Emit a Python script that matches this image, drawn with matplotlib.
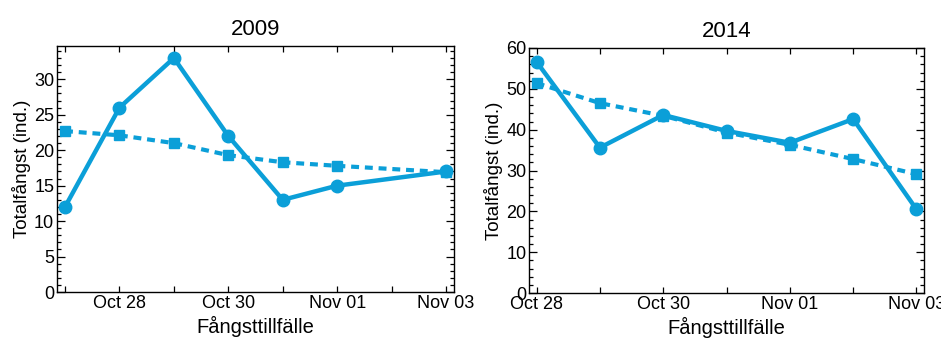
import numpy as np
import pandas as pd
import matplotlib
matplotlib.use("Agg")
import matplotlib.pyplot as plt
from matplotlib.ticker import MultipleLocator

plt.rcParams['font.family'] = ['Liberation Sans Narrow', 'Liberation Sans', 'DejaVu Sans']

# data
dates_2009 = pd.to_datetime(["2009-10-27", "2009-10-28", "2009-10-29", "2009-10-30",
                             "2009-10-31", "2009-11-01", "2009-11-03"])
catch_2009 = [12, 26, 33, 22, 13, 15, 17]
trend_2009 = [22.7, 22.1, 21.0, 19.3, 18.3, 17.8, 16.9]

dates_2014 = pd.to_datetime(["2014-10-28", "2014-10-29", "2014-10-30", "2014-10-31",
                             "2014-11-01", "2014-11-02", "2014-11-03"])
catch_2014 = [56.6, 35.6, 43.6, 39.7, 36.8, 42.6, 20.5]
trend_2014 = [51.4, 46.5, 43.4, 39.3, 36.3, 32.8, 29.1]

tick_labels_2009 = ["", "Oct 28", "", "Oct 30", "", "Nov 01", "", "Nov 03"]
tick_labels_2014 = ["Oct 28", "", "Oct 30", "", "Nov 01", "", "Nov 03"]

col = "#0b9fd8"

fig = plt.figure(figsize=(9.41, 3.38), dpi=100)
ax1 = fig.add_axes([0.0606, 0.136, 0.4219, 0.728])
ax2 = fig.add_axes([0.5622, 0.133, 0.4198, 0.725])

panels = [
    (ax1, "2009", dates_2009, catch_2009, trend_2009, tick_labels_2009,
     pd.date_range("2009-10-27", "2009-11-03"), 34.7, 5, 1, 0.147),
    (ax2, "2014", dates_2014, catch_2014, trend_2014, tick_labels_2014,
     pd.date_range("2014-10-28", "2014-11-03"), 60, 10, 2, 0.12),
]

for ax, title, d, c, t, labs, days, ymax, ymaj, ymin, pad in panels:
    ax.plot(d, t, color=col, lw=3, ls=(0, (1.9, 1.4)), marker="s", ms=6.5,
            dash_capstyle="butt", zorder=2)
    ax.plot(d, c, color=col, lw=3.2, marker="o", ms=9, zorder=3)
    ax.set_xticks(days)
    ax.set_xticklabels(labs)
    ax.set_xlim(days[0] - pd.Timedelta(days=pad), days[-1] + pd.Timedelta(days=pad))
    ax.set_ylim(0, ymax)
    ax.yaxis.set_major_locator(MultipleLocator(ymaj))
    ax.yaxis.set_minor_locator(MultipleLocator(ymin))
    ax.tick_params(which="both", direction="in", top=True, right=True,
                   labelsize=13, pad=2, width=0.9)
    ax.tick_params(axis="y", which="major", length=6)
    ax.tick_params(axis="y", which="minor", length=3)
    ax.tick_params(axis="x", which="major", length=4)
    for s in ax.spines.values():
        s.set_linewidth(1.0)
    ax.set_title(title, fontsize=16, pad=8)
    ax.set_xlabel("Fångsttillfälle", fontsize=14.5, labelpad=3)
    ax.set_ylabel("Totalfångst (ind.)", fontsize=13.5, labelpad=2)

fig.savefig("out.png", dpi=100)
